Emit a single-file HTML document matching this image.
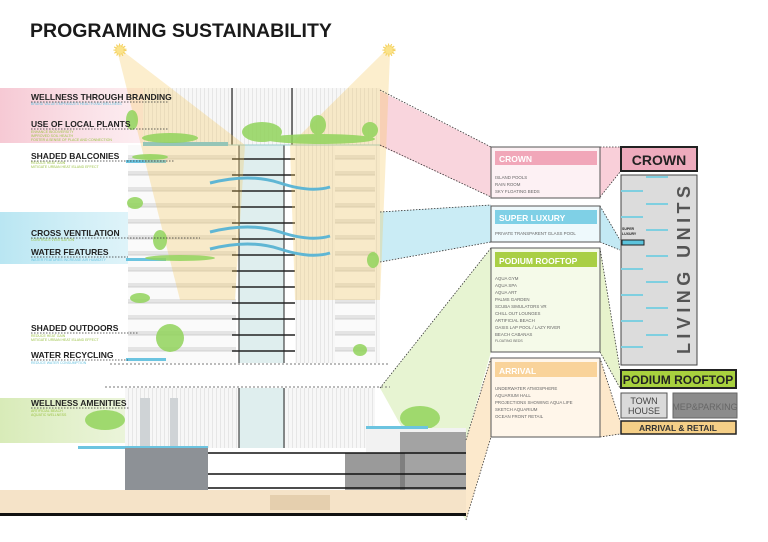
<!DOCTYPE html>
<html><head><meta charset="utf-8"><style>
html,body{margin:0;padding:0;background:#fff;}
svg{display:block;font-family:"Liberation Sans",sans-serif;}
</style></head><body>
<svg width="768" height="542" viewBox="0 0 768 542" xmlns="http://www.w3.org/2000/svg">
<defs>
<linearGradient id="pk" x1="0" x2="1"><stop offset="0" stop-color="#f6c9d4"/><stop offset="1" stop-color="#fbe3e9" stop-opacity="0.3"/></linearGradient>
<linearGradient id="bl" x1="0" x2="1"><stop offset="0" stop-color="#b9e6f2"/><stop offset="1" stop-color="#d7f1f8" stop-opacity="0.4"/></linearGradient>
<linearGradient id="gr" x1="0" x2="1"><stop offset="0" stop-color="#d8ebb8"/><stop offset="1" stop-color="#e9f3d6" stop-opacity="0.5"/></linearGradient>
<pattern id="bal" width="10" height="16" patternUnits="userSpaceOnUse"><rect width="10" height="16" fill="#fafafa"/><rect y="11" width="10" height="4" fill="#e4e4e4"/><line x1="0" y1="15" x2="10" y2="15" stroke="#c9c9c9" stroke-width="0.8"/></pattern>
<pattern id="vl" width="4" height="10" patternUnits="userSpaceOnUse"><rect width="4" height="10" fill="#f7f7f7"/><line x1="0.5" y1="0" x2="0.5" y2="10" stroke="#dcdcdc" stroke-width="0.6"/></pattern>
<pattern id="core" width="60" height="16" patternUnits="userSpaceOnUse"><rect width="60" height="16" fill="none"/><line x1="0" y1="15" x2="60" y2="15" stroke="#222" stroke-width="1.5"/></pattern>
</defs>

<text x="30" y="37" font-size="19.5" font-weight="bold" fill="#1a1a1a">PROGRAMING SUSTAINABILITY</text>

<rect x="0" y="88" width="200" height="55" fill="url(#pk)"/>
<rect x="0" y="212" width="210" height="52" fill="url(#bl)"/>
<rect x="0" y="398" width="210" height="45" fill="url(#gr)"/>

<polygon points="378,90 491,147 491,197 378,145" fill="#f7c3cf" opacity="0.7"/>
<polygon points="378,212 491,205 491,242 378,262" fill="#bde7f3" opacity="0.8"/>
<polygon points="380,388 491,248 491,352 466,440 466,520 420,460" fill="#ddefbf" opacity="0.7"/>
<polygon points="491,358 491,437 466,520 466,440" fill="#fbe3bf" opacity="0.8"/>
<polygon points="600,147 620,147 620,172 600,197" fill="#f7c3cf" opacity="0.8"/>
<polygon points="600,206 620,240 620,250 600,242" fill="#bde7f3" opacity="0.9"/>
<polygon points="600,248 620,370 620,388 600,352" fill="#e4f2c6" opacity="0.9"/>
<polygon points="600,358 620,421 620,434 600,437" fill="#fde6c4" opacity="0.9"/>

<rect x="143" y="88" width="237" height="57" fill="url(#vl)"/>
<rect x="128" y="145" width="108" height="218" fill="url(#bal)"/>
<rect x="295" y="145" width="85" height="218" fill="url(#vl)"/>
<rect x="335" y="145" width="40" height="218" fill="url(#bal)"/>
<rect x="239" y="145" width="45" height="218" fill="#dfeeee"/>
<rect x="232" y="145" width="63" height="218" fill="url(#core)"/>
<line x1="239" y1="145" x2="239" y2="363" stroke="#222" stroke-width="1"/>
<line x1="284" y1="145" x2="284" y2="363" stroke="#222" stroke-width="1"/>
<line x1="232" y1="88" x2="232" y2="145" stroke="#222" stroke-width="1.2"/>
<line x1="292" y1="88" x2="292" y2="145" stroke="#222" stroke-width="1.2"/>
<line x1="143" y1="145" x2="380" y2="145" stroke="#9cc" stroke-width="1"/>
<rect x="143" y="142" width="85" height="4" fill="#6cc4e0"/>
<rect x="126" y="160" width="40" height="3" fill="#6cc4e0"/>
<rect x="126" y="258" width="40" height="3" fill="#6cc4e0"/>
<rect x="126" y="358" width="40" height="3" fill="#6cc4e0"/>

<polygon points="118,54 124,52 245,145 235,300 180,300" fill="#f6c75a" opacity="0.3"/>
<polygon points="390,54 384,52 290,145 295,300 380,300" fill="#f6c75a" opacity="0.3"/>
<circle cx="120" cy="50" r="5" fill="#fbe38a" stroke="#f3d060" stroke-dasharray="1,1.5" stroke-width="3"/>
<circle cx="389" cy="50" r="5" fill="#fbe38a" stroke="#f3d060" stroke-dasharray="1,1.5" stroke-width="3"/>

<g fill="#92d45c" opacity="0.85">
<ellipse cx="170" cy="138" rx="28" ry="5"/><ellipse cx="320" cy="139" rx="55" ry="5"/>
<ellipse cx="262" cy="132" rx="20" ry="10"/><ellipse cx="132" cy="120" rx="6" ry="10"/>
<ellipse cx="318" cy="125" rx="8" ry="10"/><ellipse cx="370" cy="130" rx="8" ry="8"/>
<ellipse cx="150" cy="157" rx="18" ry="3"/><ellipse cx="135" cy="203" rx="8" ry="6"/>
<ellipse cx="160" cy="240" rx="7" ry="10"/><ellipse cx="180" cy="258" rx="35" ry="3"/>
<ellipse cx="140" cy="298" rx="10" ry="5"/><ellipse cx="170" cy="338" rx="14" ry="14"/>
<ellipse cx="360" cy="350" rx="7" ry="6"/><ellipse cx="373" cy="260" rx="6" ry="8"/>
<ellipse cx="105" cy="420" rx="20" ry="10"/><ellipse cx="170" cy="432" rx="35" ry="10"/>
<ellipse cx="330" cy="432" rx="20" ry="10"/><ellipse cx="420" cy="418" rx="20" ry="12"/>
</g>
<g stroke="#5fb6d4" stroke-width="3" fill="none">
<path d="M210,183 q40,-10 70,0 t50,4"/><path d="M210,232 q40,-10 70,0 t50,4"/><path d="M210,249 q40,-10 70,0 t50,4"/>
</g>

<line x1="110" y1="364" x2="390" y2="364" stroke="#777" stroke-dasharray="2,2"/>
<line x1="105" y1="387" x2="390" y2="387" stroke="#777" stroke-dasharray="2,2"/>

<rect x="125" y="388" width="250" height="60" fill="url(#vl)"/>
<rect x="239" y="388" width="45" height="60" fill="#dfeeee"/>
<line x1="239" y1="388" x2="239" y2="448" stroke="#222"/><line x1="284" y1="388" x2="284" y2="448" stroke="#222"/>
<rect x="140" y="398" width="10" height="50" fill="#cfd3d6"/><rect x="170" y="398" width="8" height="50" fill="#cfd3d6"/>

<rect x="78" y="448" width="388" height="42" fill="#fff"/>
<rect x="78" y="446" width="130" height="3" fill="#6cc4e0"/>
<rect x="366" y="428" width="100" height="62" fill="#f2f2f2"/>
<rect x="366" y="426" width="62" height="3" fill="#6cc4e0"/>
<rect x="125" y="448" width="83" height="42" fill="#8d9196"/>
<rect x="345" y="453" width="60" height="37" fill="#9a9a9a"/>
<rect x="400" y="432" width="66" height="58" fill="#6e6e6e" opacity="0.6"/>
<line x1="208" y1="453" x2="466" y2="453" stroke="#111" stroke-width="1.6"/>
<line x1="208" y1="474" x2="466" y2="474" stroke="#111" stroke-width="1.6"/>
<line x1="208" y1="488" x2="466" y2="488" stroke="#111" stroke-width="1.6"/>
<rect x="0" y="490" width="466" height="24" fill="#f5e3c8"/>
<rect x="0" y="513" width="466" height="3" fill="#111"/>
<rect x="270" y="495" width="60" height="15" fill="#e5cfae"/>

<g font-weight="bold" font-size="8.5" fill="#222">
<text x="31" y="100">WELLNESS THROUGH BRANDING</text>
<text x="31" y="127">USE OF LOCAL PLANTS</text>
<text x="31" y="159">SHADED  BALCONIES</text>
<text x="31" y="236">CROSS VENTILATION</text>
<text x="31" y="255">WATER FEATURES</text>
<text x="31" y="331">SHADED  OUTDOORS</text>
<text x="31" y="358">WATER RECYCLING</text>
<text x="31" y="406">WELLNESS AMENITIES</text>
</g>
<g font-size="3.5" fill="#9ec44a">
<text x="31" y="105" fill="#6cc4e0">BRAND VALUE EMPHASIZES HEALTH AND WELLNESS</text>
<text x="31" y="133">ENHANCE BIODIVERSITY</text><text x="31" y="137">IMPROVED SOIL HEALTH</text><text x="31" y="141">FOSTER A SENSE OF PLACE AND CONNECTION</text>
<text x="31" y="164">REDUCE HEAT GAIN</text><text x="31" y="168">MITIGATE URBAN HEAT ISLAND EFFECT</text>
<text x="31" y="241">CONTROLS VENTILATION</text>
<text x="31" y="261" fill="#6cc4e0">WATER FEATURES INCREASE AIR HUMIDITY</text>
<text x="31" y="337">REDUCE HEAT GAIN</text><text x="31" y="341">MITIGATE URBAN HEAT ISLAND EFFECT</text>
<text x="31" y="364" fill="#6cc4e0">REDUCE WATER CONSUMPTION</text>
<text x="31" y="412">ARTIFICIAL BEACH</text><text x="31" y="416">AQUATIC WELLNESS</text>
</g>
<g stroke="#333" stroke-width="0.8" stroke-dasharray="1.5,1.5" fill="none">
<line x1="31" y1="102" x2="168" y2="102"/><line x1="31" y1="129" x2="168" y2="129"/>
<line x1="31" y1="161" x2="175" y2="161"/><line x1="31" y1="238" x2="200" y2="238"/>
<line x1="31" y1="257" x2="128" y2="257"/><line x1="31" y1="333" x2="138" y2="333"/>
<line x1="31" y1="360" x2="128" y2="360"/><line x1="31" y1="408" x2="130" y2="408"/>
<line x1="380" y1="90" x2="491" y2="147"/><line x1="380" y1="145" x2="491" y2="197"/>
<line x1="380" y1="212" x2="491" y2="205"/><line x1="380" y1="262" x2="491" y2="242"/>
<line x1="380" y1="388" x2="491" y2="248"/><line x1="466" y1="440" x2="491" y2="358"/><line x1="466" y1="520" x2="491" y2="437"/>
<line x1="600" y1="147" x2="620" y2="147"/><line x1="600" y1="197" x2="620" y2="172"/>
<line x1="600" y1="206" x2="620" y2="240"/><line x1="600" y1="242" x2="620" y2="250"/>
<line x1="600" y1="248" x2="620" y2="370"/><line x1="600" y1="352" x2="620" y2="388"/>
<line x1="600" y1="358" x2="620" y2="421"/><line x1="600" y1="437" x2="620" y2="434"/>
</g>

<g stroke="#555" stroke-width="1">
<rect x="491" y="147" width="109" height="51" fill="#fdf1f4"/>
<rect x="491" y="206" width="109" height="36" fill="#eef9fc"/>
<rect x="491" y="248" width="109" height="104" fill="#f5fae9"/>
<rect x="491" y="358" width="109" height="79" fill="#fff6ea"/>
</g>
<rect x="495" y="151" width="102" height="14" fill="#f1a7b9"/>
<rect x="495" y="210" width="102" height="14" fill="#7fd0e6"/>
<rect x="495" y="252" width="102" height="15" fill="#a9cf45"/>
<rect x="495" y="362" width="102" height="15" fill="#f9d39a"/>
<g font-weight="bold" font-size="8.5" fill="#fff">
<text x="499" y="162">CROWN</text><text x="499" y="221">SUPER LUXURY</text>
<text x="499" y="264">PODIUM ROOFTOP</text><text x="499" y="374">ARRIVAL</text>
</g>
<g font-size="4.4" fill="#666">
<text x="495" y="179">ISLAND POOLS</text><text x="495" y="186">RAIN ROOM</text><text x="495" y="193">SKY FLOATING BEDS</text>
<text x="495" y="235">PRIVATE TRANSPARENT GLASS POOL</text>
<text x="495" y="280">AQUA GYM</text><text x="495" y="287">AQUA SPA</text><text x="495" y="294">AQUA ART</text>
<text x="495" y="301">PALMS GARDEN</text><text x="495" y="308">SCUBA SIMULATORS VR</text><text x="495" y="315">CHILL OUT LOUNGES</text>
<text x="495" y="322">ARTIFICIAL BEACH</text><text x="495" y="329">OASIS LAP POOL / LAZY RIVER</text><text x="495" y="336">BEACH CABANAS</text>
<text x="495" y="342" font-size="3.5">FLOATING BEDS</text>
<text x="495" y="390">UNDERWATER ATMOSPHERE</text><text x="495" y="397">AQUARIUM HALL</text>
<text x="495" y="404">PROJECTIONS SHOWING AQUA LIFE</text><text x="495" y="411">SKETCH AQUARIUM</text><text x="495" y="418">OCEAN FRONT RETAIL</text>
</g>

<rect x="621" y="147" width="76" height="24" fill="#eeabbd" stroke="#222" stroke-width="2"/>
<text x="659" y="165" font-size="14" font-weight="bold" fill="#222" text-anchor="middle">CROWN</text>
<rect x="621" y="175" width="76" height="190" fill="#dcdcdc" stroke="#444" stroke-width="1"/>
<g fill="#7fcfe0">
<rect x="646" y="176" width="22" height="2"/><rect x="621" y="190" width="22" height="2"/><rect x="646" y="203" width="22" height="2"/>
<rect x="621" y="216" width="22" height="2"/><rect x="646" y="229" width="22" height="2"/><rect x="646" y="255" width="22" height="2"/>
<rect x="621" y="268" width="22" height="2"/><rect x="646" y="281" width="22" height="2"/><rect x="621" y="294" width="22" height="2"/>
<rect x="646" y="307" width="22" height="2"/><rect x="621" y="320" width="22" height="2"/><rect x="646" y="334" width="22" height="2"/>
<rect x="621" y="346" width="22" height="2"/>
</g>
<text x="622" y="230" font-size="3.5" font-weight="bold" fill="#222">SUPER</text>
<text x="622" y="235" font-size="3.5" font-weight="bold" fill="#222">LUXURY</text>
<rect x="622" y="240" width="22" height="5" fill="#5bc3dc" stroke="#222" stroke-width="1"/>
<text transform="translate(690,354) rotate(-90)" font-size="18" font-weight="bold" fill="#555" textLength="168" lengthAdjust="spacing">LIVING UNITS</text>
<rect x="621" y="370" width="115" height="18" fill="#a8d13e" stroke="#222" stroke-width="2"/>
<text x="678" y="384" font-size="12" font-weight="bold" fill="#222" text-anchor="middle">PODIUM ROOFTOP</text>
<rect x="621" y="393" width="46" height="25" fill="#dadada" stroke="#555"/>
<text x="644" y="404" font-size="9" fill="#444" text-anchor="middle">TOWN</text>
<text x="644" y="414" font-size="9" fill="#444" text-anchor="middle">HOUSE</text>
<rect x="673" y="393" width="64" height="25" fill="#8c8c8c" stroke="#666"/>
<text x="705" y="410" font-size="9" fill="#666" text-anchor="middle">MEP&amp;PARKING</text>
<rect x="621" y="421" width="115" height="13" fill="#f5cf87" stroke="#222" stroke-width="1.5"/>
<text x="678" y="431" font-size="8.5" font-weight="bold" fill="#333" text-anchor="middle">ARRIVAL &amp; RETAIL</text>
</svg>
</body></html>
